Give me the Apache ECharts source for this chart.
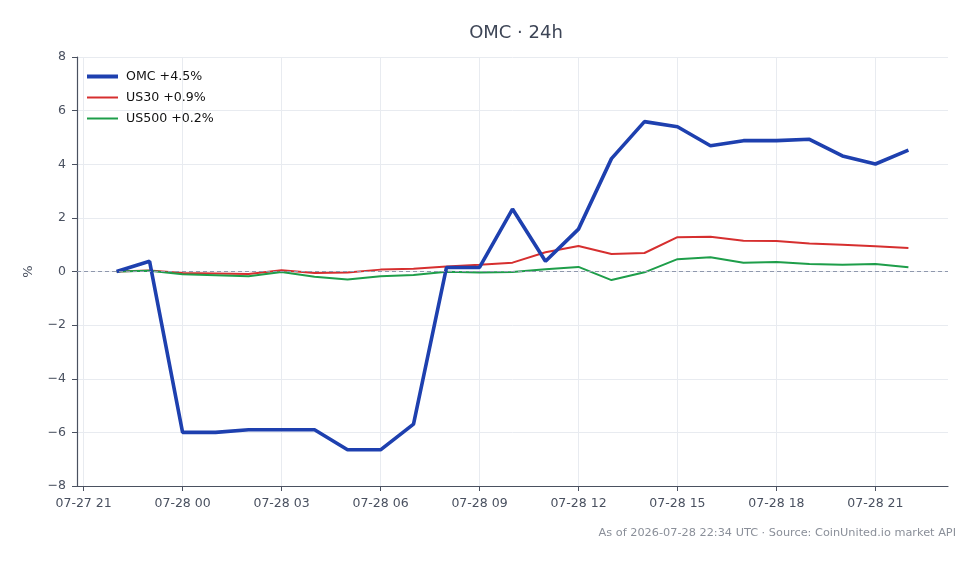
<!DOCTYPE html>
<html lang="en">
<head>
    <meta charset="UTF-8">
    <title>OMC · 24h</title>
    <script src="https://cdn.jsdelivr.net/npm/echarts/dist/echarts.min.js"></script>
    <style>
        html, body { margin: 0; padding: 0; background: #ffffff; }
        #main { width: 980px; height: 564px; }
    </style>
</head>
<body>
    <div id="main"></div>
    <script>
        // hourly points, UTC
        var times = [
            '2026-07-27T22:00Z', '2026-07-27T23:00Z', '2026-07-28T00:00Z', '2026-07-28T01:00Z',
            '2026-07-28T02:00Z', '2026-07-28T03:00Z', '2026-07-28T04:00Z', '2026-07-28T05:00Z',
            '2026-07-28T06:00Z', '2026-07-28T07:00Z', '2026-07-28T08:00Z', '2026-07-28T09:00Z',
            '2026-07-28T10:00Z', '2026-07-28T11:00Z', '2026-07-28T12:00Z', '2026-07-28T13:00Z',
            '2026-07-28T14:00Z', '2026-07-28T15:00Z', '2026-07-28T16:00Z', '2026-07-28T17:00Z',
            '2026-07-28T18:00Z', '2026-07-28T19:00Z', '2026-07-28T20:00Z', '2026-07-28T21:00Z',
            '2026-07-28T22:00Z'
        ];
        var omc = [0, 0.38, -6.0, -6.0, -5.9, -5.9, -5.9, -6.65, -6.65, -5.69, 0.15, 0.15,
            2.33, 0.38, 1.58, 4.21, 5.59, 5.40, 4.69, 4.88, 4.88, 4.93, 4.31, 4.01, 4.53];
        var us30 = [0, 0.04, -0.06, -0.07, -0.09, 0.05, -0.06, -0.04, 0.07, 0.1, 0.19, 0.25,
            0.33, 0.72, 0.95, 0.65, 0.69, 1.28, 1.30, 1.15, 1.14, 1.04, 1.0, 0.94, 0.88];
        var us500 = [0, 0.03, -0.1, -0.14, -0.18, -0.02, -0.2, -0.3, -0.18, -0.13, -0.01, -0.04,
            -0.02, 0.08, 0.17, -0.32, -0.03, 0.46, 0.53, 0.33, 0.35, 0.28, 0.25, 0.28, 0.16];
        var seriesNames = ['OMC +4.5%', 'US30 +0.9%', 'US500 +0.2%'];
        var xTicks = [
            '2026-07-27T21:00Z', '2026-07-28T00:00Z', '2026-07-28T03:00Z', '2026-07-28T06:00Z',
            '2026-07-28T09:00Z', '2026-07-28T12:00Z', '2026-07-28T15:00Z', '2026-07-28T18:00Z',
            '2026-07-28T21:00Z'
        ];
        var yTicks = [-8, -6, -4, -2, 0, 2, 4, 6, 8];

        var t = times.map(function (s) { return Date.parse(s); });
        var tickMs = xTicks.map(function (s) { return Date.parse(s); });
        var pad = (t[t.length - 1] - t[0]) * 0.05;

        function pairs(vals) {
            return vals.map(function (v, i) { return [t[i], v]; });
        }
        function two(n) { return (n < 10 ? '0' : '') + n; }
        function fmtTime(v) {
            var d = new Date(v);
            return two(d.getUTCMonth() + 1) + '-' + two(d.getUTCDate()) + ' ' + two(d.getUTCHours());
        }

        var colors = ['#1e40af', '#d62f2f', '#1e9e4a'];
        var widths = [3.6, 2, 2];
        var axisColor = '#4a5160';
        var labelColor = '#4a5160';
        var gridColor = '#e8ebf0';

        // one legend per series so each keeps its own line thickness
        var legends = seriesNames.map(function (name, i) {
            return {
                left: 82,
                top: 65 + i * 21,
                icon: 'rect',
                itemWidth: 31,
                itemHeight: i === 0 ? 4 : 2,
                data: [name],
                selectedMode: false,
                textStyle: { fontFamily: 'DejaVu Sans', fontSize: 12.6, color: '#111111', padding: [0, 0, 0, 3] }
            };
        });

        var chart = echarts.init(document.getElementById('main'));
        var option = {
            animation: false,
            title: {
                text: 'OMC · 24h',
                left: 511,
                textAlign: 'center',
                top: 19,
                textStyle: { fontFamily: 'DejaVu Sans', fontSize: 18, fontWeight: 'normal', color: '#3d4556' }
            },
            legend: legends,
            grid: { left: 77, right: 32, top: 57, bottom: 78 },
            xAxis: {
                type: 'value',
                min: t[0] - pad,
                max: t[t.length - 1] + pad,
                axisLine: { onZero: false, lineStyle: { color: axisColor, width: 1.2 } },
                axisTick: { customValues: tickMs, length: 5, lineStyle: { color: axisColor } },
                axisLabel: {
                    customValues: tickMs,
                    formatter: fmtTime,
                    margin: 11,
                    fontFamily: 'DejaVu Sans', fontSize: 12.5, color: labelColor
                },
                splitLine: { show: true, lineStyle: { color: gridColor } }
            },
            yAxis: {
                type: 'value',
                min: -8,
                max: 8,
                interval: 2,
                name: '%',
                nameLocation: 'middle',
                nameGap: 42,
                nameTextStyle: { fontFamily: 'DejaVu Sans', fontSize: 13, color: labelColor },
                axisLine: { show: true, onZero: false, lineStyle: { color: axisColor, width: 1.2 } },
                axisTick: { show: true, length: 5, lineStyle: { color: axisColor } },
                axisLabel: {
                    fontFamily: 'DejaVu Sans', fontSize: 12.5, color: labelColor, margin: 11,
                    formatter: function (v) { return v < 0 ? '\u2212' + Math.abs(v) : String(v); }
                },
                splitLine: { show: true, lineStyle: { color: gridColor } }
            },
            graphic: [{
                type: 'text',
                right: 24,
                top: 528,
                style: {
                    text: 'As of 2026-07-28 22:34 UTC · Source: CoinUnited.io market API',
                    fontFamily: 'DejaVu Sans', fontSize: 11.3, fill: '#8a8f99'
                }
            }],
            series: seriesNames.map(function (name, i) {
                var s = {
                    name: name,
                    type: 'line',
                    data: pairs([omc, us30, us500][i]),
                    symbol: 'none',
                    z: i === 0 ? 4 : 3,
                    lineStyle: { color: colors[i], width: widths[i] },
                    itemStyle: { color: colors[i] }
                };
                if (i === 0) {
                    s.markLine = {
                        silent: true,
                        symbol: 'none',
                        label: { show: false },
                        lineStyle: { color: '#8f98ad', type: [4, 3], width: 1 },
                        data: [{ yAxis: yTicks[4] }]
                    };
                }
                return s;
            })
        };

        chart.setOption(option);
    </script>
</body>
</html>
